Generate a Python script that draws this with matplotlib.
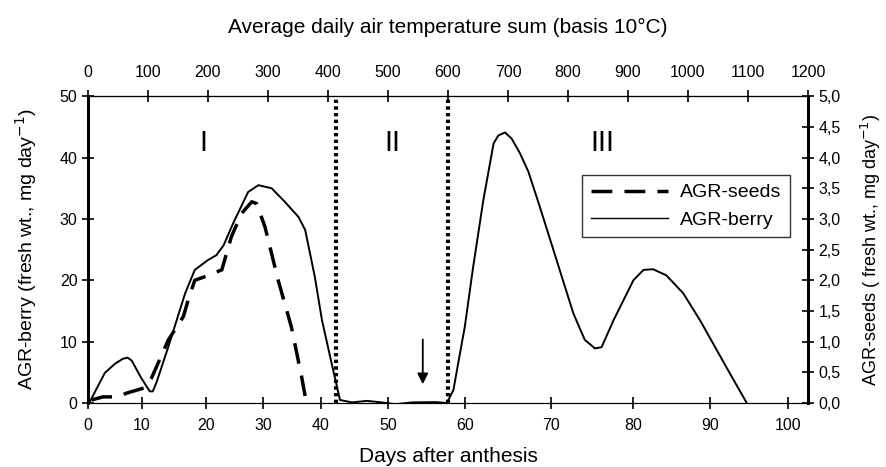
import matplotlib.pyplot as plt
from matplotlib.ticker import FuncFormatter
from matplotlib.lines import Line2D

plt.rcParams['font.family'] = ['Liberation Sans', 'DejaVu Sans']

# Escala: eje x lineal en suma de temperatura (basis 10°C)
temp_ticks = list(range(0, 1300, 100))
# posiciones de los días sobre la suma de temperatura
day_ticks = [0, 10, 20, 30, 40, 50, 60, 70, 80, 90, 100]
day_tsum = [0, 90, 197, 292, 388, 500, 628, 772, 908, 1037, 1167]

# AGR-berry (mg day-1), x en suma de temperatura
berry_tsum = [3, 28, 45, 58, 66, 73, 88, 103, 108, 114, 134, 162, 178, 200, 214,
              226, 242, 267, 284, 306, 328, 351, 362, 378, 390, 406, 420, 440,
              465, 490, 512, 540, 580, 598, 609, 620, 628, 642, 659, 676, 684,
              695, 706, 720, 734, 753, 781, 809, 828, 845, 856, 876, 909, 926,
              942, 964, 992, 1020, 1070, 1098]
berry_agr = [0.2, 4.9, 6.4, 7.2, 7.4, 6.9, 4.2, 1.9, 1.9, 3.3, 9.2, 17.9, 21.7,
             23.3, 24.1, 25.7, 29.3, 34.4, 35.5, 35.0, 32.8, 30.3, 28.2, 20.6,
             13.5, 6.5, 0.5, 0.1, 0.35, 0.1, -0.2, 0.1, 0.15, 0.0, 2.1, 8.1, 12.4,
             22.2, 33.1, 42.3, 43.6, 44.1, 43.1, 40.7, 37.7, 32.0, 23.3, 14.6,
             10.3, 8.9, 9.1, 13.5, 20.0, 21.7, 21.8, 20.8, 17.9, 13.5, 4.8, 0.0]

# AGR-seeds (mg day-1), eje derecho
seeds_tsum = [6, 25, 48, 64, 95, 106, 134, 159, 167, 178, 198, 223, 239, 256,
              273, 281, 295, 317, 339, 356, 364]
seeds_agr = [0.05, 0.1, 0.1, 0.16, 0.25, 0.41, 1.03, 1.41, 1.68, 2.0, 2.07,
             2.17, 2.71, 3.09, 3.28, 3.25, 2.87, 2.0, 1.24, 0.43, 0.0]

phase_bounds = [413, 600]
phase_labels = ['I', 'II', 'III']
phase_pos = [193, 508, 857]
arrow_tsum = 558

fig = plt.figure(figsize=(8.87, 4.67), dpi=100)
ax = fig.add_axes([0.0992, 0.137, 0.8117, 0.657])
ax2 = ax.twinx()

ax.plot(berry_tsum, berry_agr, color='black', lw=1.4)
ax2.plot(seeds_tsum, seeds_agr, color='black', lw=2.5, dashes=(6, 3.5))

for b in phase_bounds:
    ax.plot([b, b], [0, 49.5], color='black', lw=3, linestyle=(0, (0.8, 0.8)))

for lab, p in zip(phase_labels, phase_pos):
    ax.text(p, 42.3, lab, fontsize=21, ha='center', va='center')

ax.annotate('', xy=(arrow_tsum, 2.6), xytext=(arrow_tsum, 10.8),
            arrowprops=dict(arrowstyle='-|>', color='black', lw=1.3,
                            mutation_scale=16))

ax.set_xlim(0, 1200)
ax.set_ylim(0, 50)
ax2.set_ylim(0, 5)
ax.set_xticks(day_tsum)
ax.set_xticklabels([str(d) for d in day_ticks])
ax.set_yticks(range(0, 60, 10))
ax2.set_yticks([i * 0.5 for i in range(11)])
ax2.yaxis.set_major_formatter(FuncFormatter(lambda v, p: f'{v:.1f}'.replace('.', ',')))

top = ax.secondary_xaxis('top')
top.set_xticks(temp_ticks)
top.tick_params(direction='inout', length=8, width=1.2, labelsize=11.5, pad=8)
top.set_xlabel('Average daily air temperature sum (basis 10°C)', fontsize=15, labelpad=23)

ax.tick_params(axis='x', direction='inout', length=8, width=1.2, labelsize=11.5, pad=7)
ax.tick_params(axis='y', direction='inout', length=8, width=1.2, labelsize=11.5)
ax2.tick_params(direction='inout', length=8, width=1.2, labelsize=11.5)

for a in (ax, ax2):
    a.spines['left'].set_linewidth(2)
    a.spines['right'].set_linewidth(2)
    a.spines['top'].set_linewidth(0.8)
    a.spines['bottom'].set_linewidth(0.8)
top.spines['top'].set_linewidth(0.8)

ax.set_xlabel('Days after anthesis', fontsize=15, labelpad=10)
ax.set_ylabel('AGR-berry (fresh wt., mg day$^{-1}$)', fontsize=14, labelpad=15)
ax2.set_ylabel('AGR-seeds ( fresh wt., mg day$^{-1}$)', fontsize=13, labelpad=13)

handles = [Line2D([], [], color='black', lw=2.5, dashes=(6, 3.5)),
           Line2D([], [], color='black', lw=1)]
leg = ax.legend(handles, ['AGR-seeds', 'AGR-berry'], loc='upper left',
                bbox_to_anchor=(0.686, 0.743), fontsize=14, frameon=True,
                fancybox=False, edgecolor='black', handlelength=4,
                borderpad=0.45, labelspacing=0.5, handletextpad=0.6,
                borderaxespad=0)
leg.get_frame().set_linewidth(1)

fig.savefig('out.png', dpi=100)
